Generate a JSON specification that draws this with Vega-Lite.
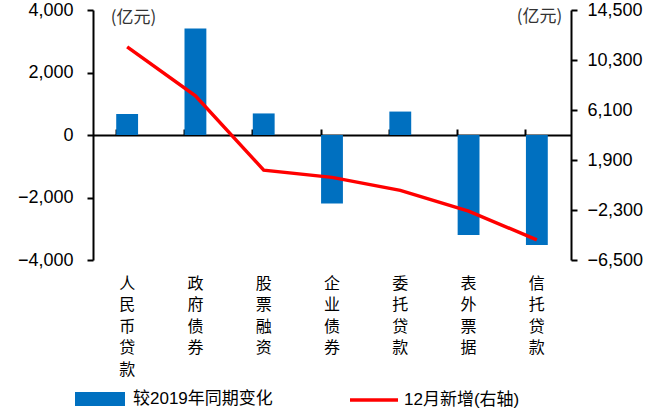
{
  "$schema": "https://vega.github.io/schema/vega-lite/v6.json",
  "autosize": "none",
  "width": 478,
  "height": 250,
  "padding": {"left": 93, "top": 10, "right": 93, "bottom": 156},
  "background": "white",
  "config": {
    "view": {"stroke": null},
    "axis": {"grid": false, "labelColor": "#000", "domainColor": "#000", "tickColor": "#000", "labelFont": "Liberation Sans", "titleFont": "Noto Sans CJK SC"},
    "legend": {"labelFont": "Liberation Sans, Noto Sans CJK SC", "labelFontSize": 17, "labelColor": "#000"}
  },
  "data": {
    "values": [
      {"cat": "人民币贷款", "change": 670, "dec": 11400},
      {"cat": "政府债券", "change": 3410, "dec": 7300},
      {"cat": "股票融资", "change": 690, "dec": 1050},
      {"cat": "企业债券", "change": -2190, "dec": 440},
      {"cat": "委托贷款", "change": 750, "dec": -650},
      {"cat": "表外票据", "change": -3200, "dec": -2400},
      {"cat": "信托贷款", "change": -3520, "dec": -4800}
    ]
  },
  "layer": [
    {
      "mark": {"type": "bar"},
      "encoding": {
        "x": {
          "field": "cat", "type": "nominal", "sort": null,
          "scale": {"paddingInner": 0.68, "paddingOuter": 0.34},
          "axis": {
            "title": null, "domain": false, "ticks": false, "labelAngle": 0,
            "labelExpr": "split(datum.label, '')",
            "labelFont": "Noto Sans CJK SC", "labelFontSize": 16, "labelLineHeight": 21.5,
            "labelBaseline": "top", "labelPadding": 15
          }
        },
        "y": {
          "field": "change", "type": "quantitative",
          "scale": {"domain": [-4000, 4000], "nice": false},
          "axis": {
            "values": [-4000, -2000, 0, 2000, 4000], "format": ",.0f",
            "labelFontSize": 18, "labelPadding": 14, "tickSize": 6, "domainWidth": 2, "tickWidth": 2,
            "title": "(亿元)", "titleAngle": 0, "titleX": 40, "titleY": 7, "titleAlign": "center",
            "titleBaseline": "middle", "titleFontSize": 17, "titleFontWeight": "normal", "titleColor": "#333"
          }
        },
        "fill": {
          "datum": "较2019年同期变化",
          "scale": {"range": ["#0070C0"]},
          "legend": {
            "title": null, "orient": "none", "legendX": -18, "legendY": 364,
            "symbolType": "M-1,-0.28H1V0.28H-1Z", "symbolSize": 2500, "symbolStrokeWidth": 0,
            "labelOffset": 8
          }
        }
      }
    },
    {
      "mark": {"type": "line", "strokeWidth": 3.5, "color": "#FF0000"},
      "encoding": {
        "x": {
          "field": "cat", "type": "nominal", "sort": null,
          "axis": {
            "title": null, "labels": false, "bandPosition": 0, "offset": -125,
            "domainWidth": 2, "tickWidth": 2, "tickSize": 6
          }
        },
        "y": {
          "field": "dec", "type": "quantitative",
          "scale": {"domain": [-6500, 14500], "nice": false},
          "axis": {
            "orient": "right",
            "values": [-6500, -2300, 1900, 6100, 10300, 14500], "format": ",.0f",
            "labelFontSize": 18, "labelPadding": 10, "tickSize": 6, "domainWidth": 2, "tickWidth": 2,
            "title": "(亿元)", "titleAngle": 0, "titleX": -32, "titleY": 6, "titleAlign": "center",
            "titleBaseline": "middle", "titleFontSize": 17, "titleFontWeight": "normal", "titleColor": "#333"
          }
        },
        "stroke": {
          "datum": "12月新增(右轴)",
          "scale": {"range": ["#FF0000"]},
          "legend": {
            "title": null, "orient": "none", "legendX": 255, "legendY": 364,
            "symbolType": "stroke", "symbolSize": 2304, "symbolStrokeWidth": 3.5,
            "labelOffset": 4
          }
        }
      }
    }
  ],
  "resolve": {"scale": {"y": "independent"}, "axis": {"x": "independent"}}
}
